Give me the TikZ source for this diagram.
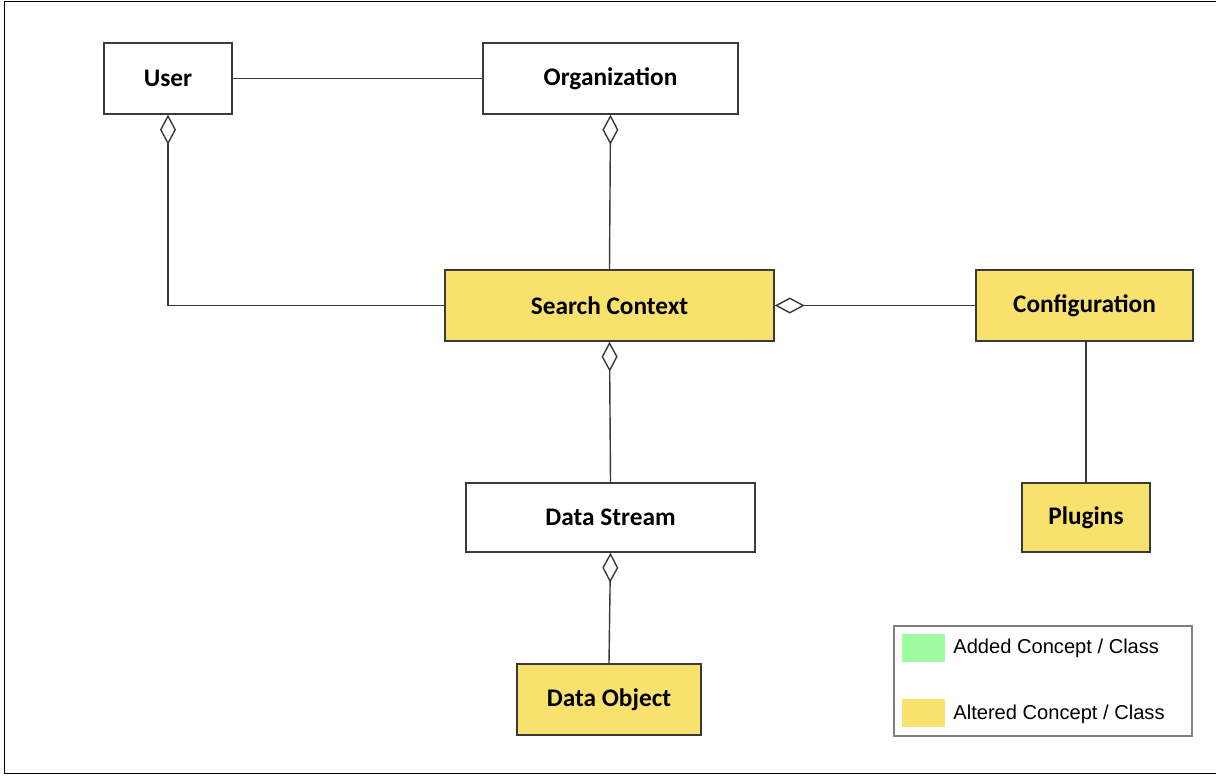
\documentclass[tikz,border=0pt]{standalone}
\usepackage{fontspec}
\setmainfont{Carlito}
\newfontfamily\legendfont{Liberation Sans}
\usetikzlibrary{arrows.meta}
\definecolor{altered}{HTML}{F8E16C}
\definecolor{added}{HTML}{A0FCA0}
\definecolor{edge}{HTML}{3A3A3A}

\begin{document}
\begin{tikzpicture}[x=0.025cm, y=-0.025cm, line width=1pt, font=\fontsize{18}{20}\selectfont\bfseries,
    cls/.style={draw=edge, fill=white, inner sep=0pt, minimum height=1.775cm},
    changed/.style={cls, fill=altered},
    agg/.style={draw=edge, {Diamond[open, length=0.75cm, width=0.4cm]}-},
    assoc/.style={draw=edge}]
  \useasboundingbox (0,0) rectangle (1216,776);
  % page frame
  \draw[line width=1.2pt] (1216,1.5) -- (4.5,1.5) -- (4.5,773.5) -- (1216,773.5);
  % classes
  \node[cls, minimum width=3.2cm] (user) at (168,78.5) {User};
  \node[cls, minimum width=6.375cm] (org) at (610.5,78.5) {Organization};
  \node[changed, minimum width=8.225cm] (ctx) at (609.5,305.5) {Search Context};
  \node[changed, minimum width=5.425cm] (conf) at (1084.5,305.5) {Configuration};
  \node[cls, minimum width=7.225cm, minimum height=1.725cm] (stream) at (610.5,517.5) {Data Stream};
  \node[changed, minimum width=3.2cm, minimum height=1.725cm] (plug) at (1086,517.5) {Plugins};
  \node[changed, minimum width=4.6cm] (obj) at (609,699.5) {Data Object};
  % relations
  \draw[assoc] (user) -- (org);
  \draw[agg] (user.south) |- (ctx.west);
  \draw[agg] (org.south) -- (ctx.north);
  \draw[agg] (ctx.east) -- (conf.west);
  \draw[agg] (ctx.south) -- (stream.north);
  \draw[agg] (stream.south) -- (obj.north);
  \draw[assoc] (conf.south -| plug.north) -- (plug.north);
  % legend
  \node[draw=gray, line width=0.8pt, minimum width=7.45cm, minimum height=2.75cm, inner sep=0pt] (legend) at (1043,681) {};
  \node[fill=added, minimum width=1.075cm, minimum height=0.7cm, inner sep=0pt] (addsw) at (923.5,648) {};
  \node[fill=altered, minimum width=1.075cm, minimum height=0.7cm, inner sep=0pt] (altsw) at (923.5,713) {};
  \node[anchor=west, font=\legendfont\fontsize{14.3}{16}\selectfont] (addtx) at (948,648) {Added Concept / Class};
  \node[anchor=west, font=\legendfont\fontsize{14.3}{16}\selectfont] (alttx) at (948,714) {Altered Concept / Class};
\end{tikzpicture}
\end{document}
